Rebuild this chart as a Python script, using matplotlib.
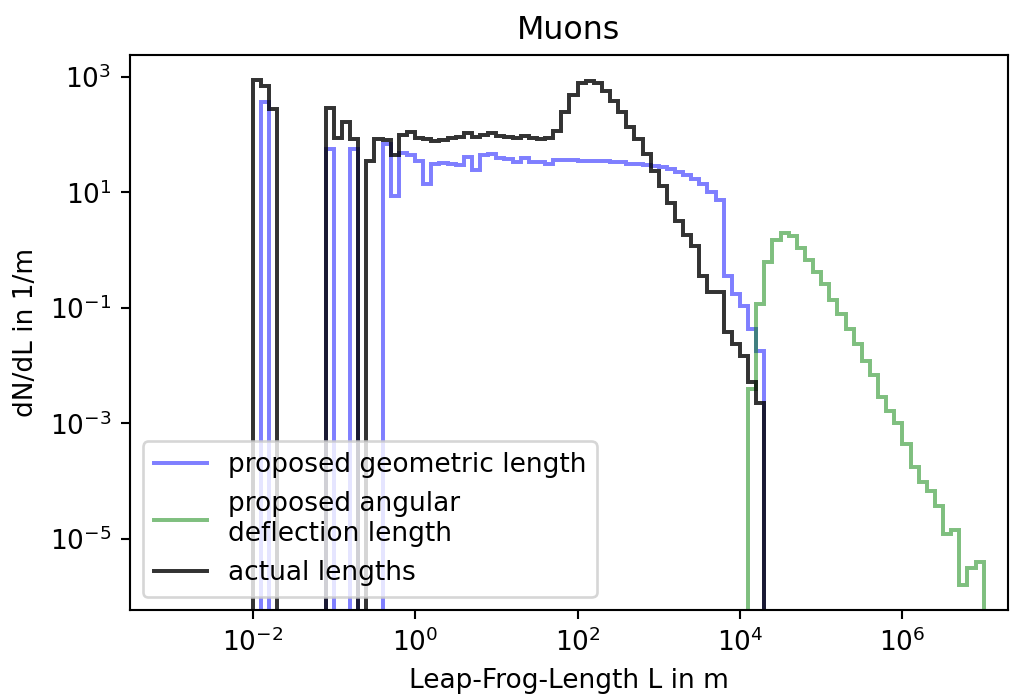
import numpy as np
import matplotlib
matplotlib.use('Agg')
import matplotlib.pyplot as plt

# bin edges: 0.1 decade wide, from 1e-2 m to 1e7 m
edges = np.logspace(-2, 7, 91)

# log10 of dN/dL per bin, None = empty bin
# first two series start at bin 10^-2.0, last entry is bin 10^4.2
geom_log = [None, 2.56, None, None, None, None, None, None, None, 1.75,
            None, None, 1.75, None, None, None, 1.84, 0.94, 1.68, 1.65,
            1.55, 1.15, 1.49, 1.51, 1.49, 1.47, 1.61, 1.39, 1.65, 1.67,
            1.59, 1.58, 1.52, 1.59, 1.53, 1.52, 1.50, 1.56, 1.57, 1.57,
            1.55, 1.55, 1.55, 1.54, 1.52, 1.52, 1.50, 1.49, 1.48, 1.46,
            1.44, 1.40, 1.36, 1.30, 1.24, 1.14, 1.00, 0.87, -0.45, -0.76,
            -0.97, -1.36, -1.74]
actual_log = [2.94, 2.85, 2.45, None, None, None, None, None, None, 2.47,
              1.95, 2.22, 1.93, None, 1.54, 1.92, 1.90, 1.64, 2.00, 2.04,
              1.94, 1.93, 1.89, 1.91, 1.95, 1.96, 2.03, 1.96, 2.00, 2.03,
              1.98, 1.96, 1.95, 1.97, 1.94, 1.93, 1.94, 2.06, 2.39, 2.69,
              2.89, 2.93, 2.89, 2.75, 2.59, 2.39, 2.14, 1.93, 1.66, 1.38,
              1.12, 0.82, 0.51, 0.27, 0.08, -0.44, -0.72, -0.73, -1.42, -1.63,
              -1.84, -2.29, -2.64]
# angular series starts at bin 10^4.1, ends with bin 10^6.9
angular_log = [-2.40, -0.94, -0.20, 0.18, 0.29, 0.24, 0.04, -0.17, -0.37, -0.59,
               -0.86, -1.11, -1.37, -1.62, -1.92, -2.16, -2.55, -2.79, -3.00, -3.35,
               -3.75, -4.02, -4.17, -4.43, -4.92, -4.85, -5.79, -5.50, -5.40]
angular_start = 61

labels = ['proposed geometric length', 'proposed angular\ndeflection length', 'actual lengths']


def to_counts(logvals, start):
    c = np.zeros(len(edges) - 1)
    for i, v in enumerate(logvals):
        if v is not None:
            c[start + i] = 10.0 ** v
    return c


geom = to_counts(geom_log, 0)
angular = to_counts(angular_log, angular_start)
actual = to_counts(actual_log, 0)

fig = plt.figure(figsize=(1013 / 190, 694 / 190), dpi=190)
ax = fig.add_axes([130 / 1013, 84 / 694, 878 / 1013, 555 / 694])

ax.set_xscale('log')
ax.set_yscale('log', nonpositive='clip')
ax.stairs(geom, edges, color='b', alpha=0.5, linewidth=1.5, label=labels[0])
ax.stairs(angular, edges, color='g', alpha=0.5, linewidth=1.5, label=labels[1])
ax.stairs(actual, edges, color='k', alpha=0.8, linewidth=1.5, label=labels[2])

ax.set_xlim(10 ** -3.51, 10 ** 7.30)
ax.set_ylim(10 ** -6.23, 10 ** 3.38)
ax.set_xticks([1e-2, 1e0, 1e2, 1e4, 1e6])
ax.set_yticks([1e-5, 1e-3, 1e-1, 1e1, 1e3])
ax.minorticks_off()

ax.set_title('Muons', fontsize=12)
ax.set_xlabel('Leap-Frog-Length L in m')
ax.set_ylabel('dN/dL in 1/m')
ax.legend(loc='lower left')

fig.savefig('out.png', dpi=190)
